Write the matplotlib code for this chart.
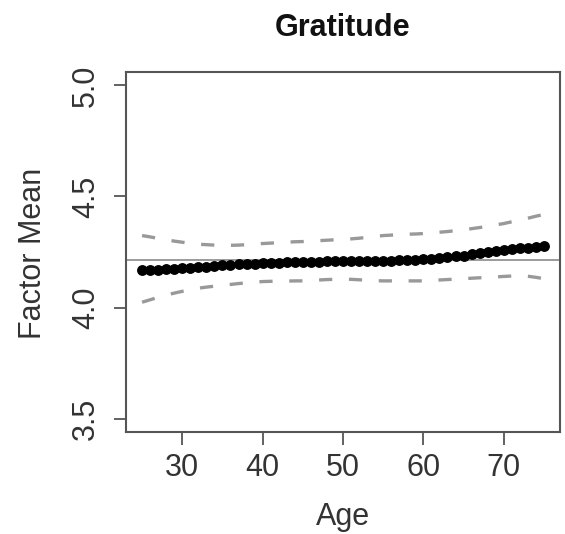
import matplotlib
matplotlib.use("Agg")
import matplotlib.pyplot as plt
import numpy as np

plt.rcParams['font.family'] = ['Liberation Sans', 'DejaVu Sans']
plt.rcParams['lines.scale_dashes'] = False

title = "Gratitude"
x_label = "Age"
y_label = "Factor Mean"
x_ticks = [30, 40, 50, 60, 70]
y_ticks = [3.5, 4.0, 4.5, 5.0]
y_tick_labels = ["3.5", "4.0", "4.5", "5.0"]

ages = list(range(25, 76))
fitted = [4.167, 4.168, 4.170, 4.172, 4.174, 4.177, 4.179, 4.181, 4.184, 4.187,
          4.190, 4.192, 4.194, 4.196, 4.198, 4.200, 4.201, 4.202, 4.203, 4.204,
          4.205, 4.206, 4.207, 4.208, 4.208, 4.209, 4.209, 4.209, 4.210, 4.210,
          4.210, 4.211, 4.212, 4.214, 4.216, 4.218, 4.220, 4.223, 4.226, 4.230,
          4.234, 4.239, 4.244, 4.249, 4.254, 4.259, 4.263, 4.267, 4.270, 4.273,
          4.275]
upper = [4.324, 4.318, 4.311, 4.305, 4.299, 4.294, 4.289, 4.285, 4.283, 4.281,
         4.280, 4.280, 4.281, 4.283, 4.286, 4.288, 4.290, 4.292, 4.294, 4.296,
         4.297, 4.299, 4.301, 4.303, 4.305, 4.306, 4.309, 4.312, 4.316, 4.320,
         4.324, 4.326, 4.328, 4.330, 4.331, 4.333, 4.336, 4.339, 4.342, 4.346,
         4.350, 4.355, 4.360, 4.366, 4.372, 4.378, 4.386, 4.394, 4.402, 4.411,
         4.419]
lower = [4.024, 4.035, 4.046, 4.056, 4.065, 4.073, 4.080, 4.087, 4.092, 4.096,
         4.100, 4.104, 4.108, 4.111, 4.114, 4.117, 4.118, 4.119, 4.119, 4.120,
         4.120, 4.122, 4.124, 4.126, 4.127, 4.128, 4.127, 4.125, 4.123, 4.121,
         4.120, 4.120, 4.120, 4.120, 4.120, 4.120, 4.122, 4.124, 4.126, 4.128,
         4.130, 4.132, 4.134, 4.136, 4.138, 4.140, 4.142, 4.143, 4.141, 4.136,
         4.130]
overall_mean = 4.216

text_color = "#333333"
fs = 22

fig = plt.figure(figsize=(5.65, 5.34), dpi=100)
ax = fig.add_axes([126/565, 1 - 432/534, (560-126)/565, (432-72)/534])

ax.axhline(overall_mean, color="#808080", lw=1.1, zorder=1)
ax.plot(ages, upper, color="#999999", lw=2.4, dashes=(9.5, 12), zorder=2)
ax.plot(ages, lower, color="#999999", lw=2.4, dashes=(9.5, 12), zorder=2)
ax.plot(ages, fitted, 'o', color="black", ms=6.8, mec="black", zorder=3)

ax.set_xlim(23, 77)
ax.set_ylim(3.44, 5.06)
ax.set_xticks(x_ticks)
ax.set_yticks(y_ticks)
ax.set_yticklabels(y_tick_labels, rotation=90, va="center")

for s in ax.spines.values():
    s.set_color("#555555")
    s.set_linewidth(1.5)

ax.tick_params(axis="both", direction="out", length=9, width=1.3,
               color="#555555", labelsize=fs, labelcolor=text_color)
ax.tick_params(axis="x", pad=6)
ax.tick_params(axis="y", pad=9)

fig.text(343/565, 1 - 28/534, title, ha="center", va="center",
         fontsize=fs, fontweight="bold", color="#111111")
fig.text(343/565, 1 - 517/534, x_label, ha="center", va="center",
         fontsize=fs, color=text_color)
fig.text(33/565, 1 - 253/534, y_label, ha="center", va="center",
         fontsize=fs, color=text_color, rotation=90)

fig.savefig("out.png", dpi=100, facecolor="white")
